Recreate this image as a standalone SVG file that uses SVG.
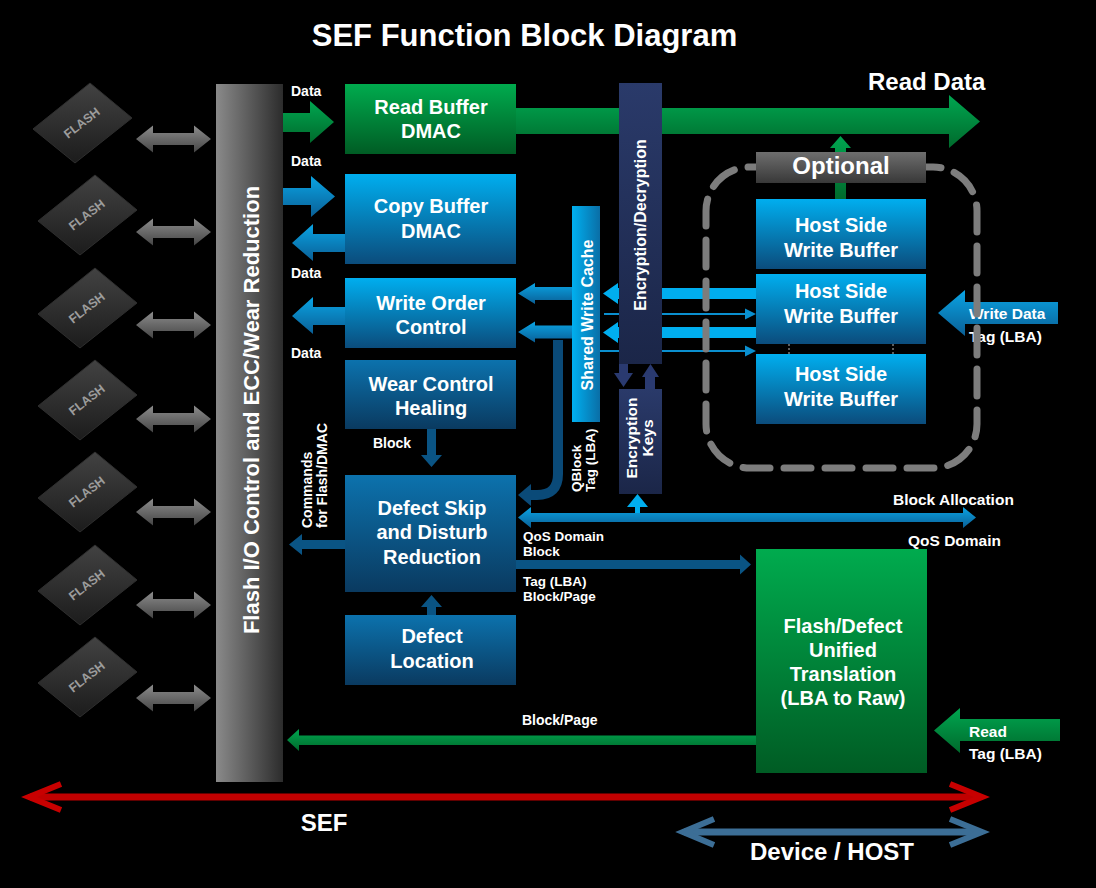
<svg xmlns="http://www.w3.org/2000/svg" xmlns:xlink="http://www.w3.org/1999/xlink" width="1096" height="888" viewBox="0 0 1096 888">
<style>
text{font-family:"Liberation Sans",Arial,sans-serif;font-weight:bold;fill:#fff}
.box{font-size:20px;text-anchor:middle}
.lbl{font-size:14px}
.sm{font-size:13.5px}
.mid{font-size:15.5px}
.flash{font-size:12.5px;fill:#9c9c9c;text-anchor:middle}
.gA{fill:url(#gGrayA)}
.green{fill:url(#gGreen)}
.blueA{fill:url(#gBlueA)}
.darkA{fill:#0a5484}
.navyA{fill:#2a3a70}
.cyanA{fill:#00aeef}
</style>
<defs>
<linearGradient id="gBar" x1="0" y1="0" x2="1" y2="0"><stop offset="0" stop-color="#8a8a8a"/><stop offset="1" stop-color="#2c2c2c"/></linearGradient>
<linearGradient id="gChip" x1="0" y1="0" x2="0" y2="1"><stop offset="0" stop-color="#424242"/><stop offset="1" stop-color="#1c1c1c"/></linearGradient>
<linearGradient id="gGrayA" x1="0" y1="0" x2="0" y2="1"><stop offset="0" stop-color="#8c8c8c"/><stop offset="1" stop-color="#454545"/></linearGradient>
<linearGradient id="gGreen" x1="0" y1="0" x2="0" y2="1"><stop offset="0" stop-color="#00a650"/><stop offset="1" stop-color="#006a2c"/></linearGradient>
<linearGradient id="gGreenBox" x1="0" y1="0" x2="0" y2="1"><stop offset="0" stop-color="#00ab4e"/><stop offset="1" stop-color="#005c24"/></linearGradient>
<linearGradient id="gBright" x1="0" y1="0" x2="0" y2="1"><stop offset="0" stop-color="#00aeef"/><stop offset="1" stop-color="#0b4c7c"/></linearGradient>
<linearGradient id="gDark" x1="0" y1="0" x2="0" y2="1"><stop offset="0" stop-color="#0c72ad"/><stop offset="1" stop-color="#0a3a60"/></linearGradient>
<linearGradient id="gBlueA" x1="0" y1="0" x2="0" y2="1"><stop offset="0" stop-color="#0aa4e4"/><stop offset="1" stop-color="#0a5f96"/></linearGradient>
<linearGradient id="gNavy" x1="0" y1="0" x2="0" y2="1"><stop offset="0" stop-color="#2a3a6a"/><stop offset="1" stop-color="#1b2648"/></linearGradient>
<linearGradient id="gCache" x1="0" y1="0" x2="1" y2="0"><stop offset="0" stop-color="#00b0f0"/><stop offset="1" stop-color="#0a6ea6"/></linearGradient>
<linearGradient id="gOpt" x1="0" y1="0" x2="0" y2="1"><stop offset="0" stop-color="#6e6e6e"/><stop offset="1" stop-color="#383838"/></linearGradient>
<polygon id="chipShape" points="-49,6 8,-40 50,-5 -7,40" fill="url(#gChip)" stroke="#2e2e2e" stroke-width="1"/>
<polygon id="dblGray" points="0,0 17,-13.5 17,-6 58,-6 58,-13.5 75,0 58,13.5 58,6 17,6 17,13.5" class="gA"/>
</defs>
<rect width="1096" height="888" fill="#000"/>

<text x="524.5" y="46" style="font-size:31px;text-anchor:middle">SEF Function Block Diagram</text>

<!-- connectors -->
<g id="connectors">
  <use href="#dblGray" x="136" y="139"/>
  <use href="#dblGray" x="136" y="232"/>
  <use href="#dblGray" x="136" y="325"/>
  <use href="#dblGray" x="136" y="419"/>
  <use href="#dblGray" x="136" y="512"/>
  <use href="#dblGray" x="136" y="605"/>
  <use href="#dblGray" x="136" y="698"/>
  <!-- data arrows -->
  <polygon class="green" points="283,113 310,113 310,101 334,122 310,143 310,132 283,132"/>
  <polygon class="blueA" points="283,188 311,188 311,176 335,196.5 311,217 311,205 283,205"/>
  <polygon class="blueA" points="345,234 313,234 313,224 292,243 313,261 313,252 345,252"/>
  <polygon class="blueA" points="345,307 313,307 313,297 292,316 313,334 313,325 345,325"/>
  <text class="lbl" x="291" y="96">Data</text>
  <text class="lbl" x="291" y="166">Data</text>
  <text class="lbl" x="291" y="278">Data</text>
  <text class="lbl" x="291" y="358">Data</text>
  <!-- read data big arrow -->
  <polygon class="green" points="516,108 949,108 949,95 980,121.5 949,148 949,134 516,134"/>
  <text x="868" y="90" style="font-size:24px">Read Data</text>
  <!-- optional up arrow -->
  <polygon class="green" points="835,199 835,148 830,148 840.5,136 851,148 846,148 846,199"/>
  <!-- host buffer to cache -->
  <polygon class="cyanA" points="756,288 618,288 618,283 603,293.5 618,304 618,299 756,299"/>
  <polygon class="cyanA" points="756,327 618,327 618,322 603,332.5 618,343 618,338 756,338"/>
  <line x1="604" y1="314" x2="746" y2="314" stroke="#0a8fcf" stroke-width="2"/>
  <polygon fill="#0a8fcf" points="745,308.5 756,314 745,319.5"/>
  <line x1="600" y1="351" x2="746" y2="351" stroke="#0a8fcf" stroke-width="2"/>
  <polygon fill="#0a8fcf" points="745,345.5 756,351 745,356.5"/>
  <!-- cache to write order -->
  <polygon class="blueA" points="572,287 535,287 535,283 518,293.5 535,304 535,300 572,300"/>
  <polygon class="blueA" points="572,325.5 535,325.5 535,321.5 518,332 535,342.5 535,338.5 572,338.5"/>
  <!-- QBlock line -->
  <path d="M558,340 V474 Q558,495 537,495 H529" fill="none" stroke="#0a4a78" stroke-width="10"/>
  <polygon fill="#0a4a78" points="531,484 518,495 531,506"/>
  <text class="sm" transform="translate(581,492) rotate(-90)">QBlock</text>
  <text class="sm" transform="translate(595,492) rotate(-90)">Tag (LBA)</text>
  <!-- wear to defect skip -->
  <polygon class="darkA" points="427,429 436,429 436,455 442,455 431.5,467 421,455 427,455"/>
  <text class="lbl" x="373" y="448">Block</text>
  <!-- defect location to defect skip -->
  <polygon class="darkA" points="427,615 427,607 421,607 431.5,595 442,607 436,607 436,615"/>
  <!-- commands -->
  <polygon class="darkA" points="345,540 302,540 302,534 289,544.5 302,555 302,549 345,549"/>
  <text class="lbl" transform="translate(312,528) rotate(-90)">Commands</text>
  <text class="lbl" transform="translate(327,528) rotate(-90)">for Flash/DMAC</text>
  <!-- block allocation -->
  <polygon class="blueA" points="518,517.5 531,507 531,513 963,513 963,507 976,517.5 963,528 963,522 531,522 531,528"/>
  <polygon class="cyanA" points="635,513 635,507 627,507 637.5,494 648,507 640,507 640,513"/>
  <text x="893" y="505" style="font-size:15.5px">Block Allocation</text>
  <text x="908" y="546" style="font-size:15.5px">QoS Domain</text>
  <text class="sm" x="523" y="541">QoS Domain</text>
  <text class="sm" x="523" y="556">Block</text>
  <!-- defect skip to translation -->
  <polygon class="darkA" points="516,560 740,560 740,554.5 751,564.5 740,574.5 740,569 516,569"/>
  <text class="sm" x="523" y="586">Tag (LBA)</text>
  <text class="sm" x="523" y="601">Block/Page</text>
  <!-- block/page back to flash i/o -->
  <polygon class="green" points="756,735.5 299,735.5 299,729 287,740 299,751 299,745 756,745"/>
  <text class="lbl" x="522" y="725">Block/Page</text>
  <!-- write data in -->
  <polygon class="blueA" points="1058,302 965,302 965,290 938,313 965,336 965,324 1058,324"/>
  <text class="mid" x="969" y="319">Write Data</text>
  <text class="mid" x="969" y="342">Tag (LBA)</text>
  <!-- read in -->
  <polygon class="green" points="1060,719 960,719 960,708 934,730.5 960,753 960,741 1060,741"/>
  <text class="mid" x="969" y="737">Read</text>
  <text class="mid" x="969" y="759">Tag (LBA)</text>
  <!-- encryption internal arrows -->
  <polygon class="navyA" points="619,364 628,364 628,373 633,373 623.5,387 614,373 619,373"/>
  <polygon class="navyA" points="645,389 645,377 642,377 650.5,364 659,377 655,377 655,389"/>
  <!-- dotted links between host buffers -->
  <line x1="789" y1="344" x2="789" y2="354" stroke="#bbb" stroke-width="1" stroke-dasharray="2,2"/>
  <line x1="893" y1="344" x2="893" y2="354" stroke="#bbb" stroke-width="1" stroke-dasharray="2,2"/>
</g>

<!-- flash chips -->
<g id="flash1" transform="translate(82,123)"><use href="#chipShape"/><text class="flash" transform="rotate(-38) translate(0,4)">FLASH</text></g>
<g id="flash2" transform="translate(87,215)"><use href="#chipShape"/><text class="flash" transform="rotate(-38) translate(0,4)">FLASH</text></g>
<g id="flash3" transform="translate(87,308)"><use href="#chipShape"/><text class="flash" transform="rotate(-38) translate(0,4)">FLASH</text></g>
<g id="flash4" transform="translate(87,400)"><use href="#chipShape"/><text class="flash" transform="rotate(-38) translate(0,4)">FLASH</text></g>
<g id="flash5" transform="translate(87,492)"><use href="#chipShape"/><text class="flash" transform="rotate(-38) translate(0,4)">FLASH</text></g>
<g id="flash6" transform="translate(87,585)"><use href="#chipShape"/><text class="flash" transform="rotate(-38) translate(0,4)">FLASH</text></g>
<g id="flash7" transform="translate(87,677)"><use href="#chipShape"/><text class="flash" transform="rotate(-38) translate(0,4)">FLASH</text></g>

<g id="flashio">
  <rect x="216" y="84" width="67" height="698" fill="url(#gBar)"/>
  <text transform="translate(259,410) rotate(-90)" style="font-size:22px;text-anchor:middle">Flash I/O Control and ECC/Wear Reduction</text>
</g>

<g id="readbuf">
  <rect x="345" y="84" width="171" height="70" fill="url(#gGreenBox)"/>
  <text class="box" x="431" y="114">Read Buffer</text>
  <text class="box" x="431" y="138">DMAC</text>
</g>
<g id="copybuf">
  <rect x="345" y="174" width="171" height="90" fill="url(#gBright)"/>
  <text class="box" x="431" y="213">Copy Buffer</text>
  <text class="box" x="431" y="238">DMAC</text>
</g>
<g id="writeorder">
  <rect x="345" y="278" width="171" height="70" fill="url(#gBright)"/>
  <text class="box" x="431" y="310">Write Order</text>
  <text class="box" x="431" y="334">Control</text>
</g>
<g id="wear">
  <rect x="345" y="360" width="171" height="69" fill="url(#gDark)"/>
  <text class="box" x="431" y="391">Wear Control</text>
  <text class="box" x="431" y="415">Healing</text>
</g>
<g id="defectskip">
  <rect x="345" y="475" width="171" height="117" fill="url(#gDark)"/>
  <text class="box" x="432" y="515">Defect Skip</text>
  <text class="box" x="432" y="539">and Disturb</text>
  <text class="box" x="432" y="564">Reduction</text>
</g>
<g id="defectloc">
  <rect x="345" y="615" width="171" height="70" fill="url(#gDark)"/>
  <text class="box" x="432" y="643">Defect</text>
  <text class="box" x="432" y="668">Location</text>
</g>
<g id="cache">
  <rect x="572" y="206" width="28" height="216" fill="url(#gCache)"/>
  <text transform="translate(593,315) rotate(-90)" style="font-size:16px;text-anchor:middle">Shared Write Cache</text>
</g>
<g id="encdec">
  <rect x="619" y="83" width="43" height="281" fill="url(#gNavy)"/>
  <text transform="translate(646,225) rotate(-90)" style="font-size:16px;text-anchor:middle">Encryption/Decryption</text>
</g>
<g id="enckeys">
  <rect x="619" y="389" width="43" height="105" fill="url(#gNavy)"/>
  <text transform="translate(637,438) rotate(-90)" style="font-size:15.5px;text-anchor:middle">Encryption</text>
  <text transform="translate(653,438) rotate(-90)" style="font-size:15.5px;text-anchor:middle">Keys</text>
</g>

<g id="optional-region">
  <rect x="706" y="167" width="271" height="301" rx="44" ry="44" fill="none" stroke="#7d7d7d" stroke-width="7" stroke-dasharray="27,14" stroke-linecap="round"/>
</g>
<g id="optional">
  <rect x="756" y="152" width="170" height="31" fill="url(#gOpt)"/>
  <text x="841" y="174" style="font-size:24px;text-anchor:middle">Optional</text>
</g>
<g id="hostbuf1">
  <rect x="756" y="199" width="170" height="70" fill="url(#gBright)"/>
  <text class="box" x="841" y="232">Host Side</text>
  <text class="box" x="841" y="257">Write Buffer</text>
</g>
<g id="hostbuf2">
  <rect x="756" y="274" width="170" height="70" fill="url(#gBright)"/>
  <text class="box" x="841" y="298">Host Side</text>
  <text class="box" x="841" y="323">Write Buffer</text>
</g>
<g id="hostbuf3">
  <rect x="756" y="354" width="170" height="70" fill="url(#gBright)"/>
  <text class="box" x="841" y="381">Host Side</text>
  <text class="box" x="841" y="406">Write Buffer</text>
</g>
<g id="translation">
  <rect x="756" y="549" width="171" height="224" fill="url(#gGreenBox)"/>
  <text class="box" x="843" y="633">Flash/Defect</text>
  <text class="box" x="843" y="657">Unified</text>
  <text class="box" x="843" y="681">Translation</text>
  <text class="box" x="843" y="705">(LBA to Raw)</text>
</g>

<g id="scope">
  <line x1="30" y1="797" x2="980" y2="797" stroke="#c00000" stroke-width="7"/>
  <polyline points="61,784 29,797 61,810" fill="none" stroke="#c80000" stroke-width="6" stroke-linejoin="miter"/>
  <polyline points="950,784 982,797 950,810" fill="none" stroke="#c80000" stroke-width="6" stroke-linejoin="miter"/>
  <text x="324" y="831" style="font-size:24px;text-anchor:middle">SEF</text>
  <line x1="684" y1="832" x2="980" y2="832" stroke="#3c6e96" stroke-width="7"/>
  <polyline points="714,819 683,832 714,845" fill="none" stroke="#3c6e96" stroke-width="6" stroke-linejoin="miter"/>
  <polyline points="950,819 982,832 950,845" fill="none" stroke="#3c6e96" stroke-width="6" stroke-linejoin="miter"/>
  <text x="832" y="860" style="font-size:24px;text-anchor:middle">Device / HOST</text>
</g>
</svg>
